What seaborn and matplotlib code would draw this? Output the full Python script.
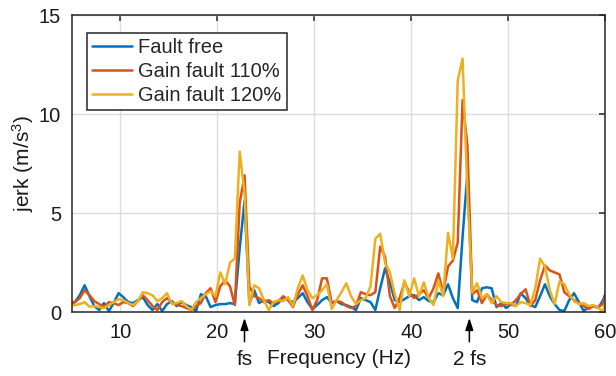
import numpy as np
import pandas as pd
import matplotlib
matplotlib.use("Agg")
import matplotlib.pyplot as plt
import matplotlib.transforms as mtransforms
import seaborn as sns

# Spectrum bins (0.5 Hz spacing)
freq = np.round(np.arange(4.8, 60.31, 0.5), 1)

fault_free = [
    0.45, 0.5, 0.85, 1.35, 0.8, 0.3, 0.1, 0.45, 0.05, 0.45,
    0.95, 0.75, 0.5, 0.45, 0.6, 0.75, 0.35, 0.1, 0.4, 0.05,
    0.4, 0.55, 0.3, 0.5, 0.35, 0.25, 0.05, 0.9, 0.8, 0.25,
    0.35, 0.4, 0.4, 0.45, 0.4, 3.2, 5.6, 0.4, 1.1, 0.45,
    0.6, 0.5, 0.3, 0.45, 0.75, 0.6, 0.5, 0.7, 0.95, 0.5,
    0.15, 0.35, 0.6, 0.75, 0.45, 0.55, 0.4, 0.35, 0.25, 0.1,
    0.7, 0.6, 0.5, 0.1, 1.2, 2.2, 1.5, 0.6, 0.5, 0.65,
    0.8, 0.85, 0.6, 0.75, 0.55, 0.5, 0.95, 0.85, 1.4, 0.7,
    0.2, 3.8, 7.0, 0.6, 0.5, 1.2, 1.25, 1.2, 0.25, 0.45,
    0.2, 0.4, 0.3, 0.95, 0.7, 0.35, 0.25, 0.8, 1.4, 0.8,
    0.4, 0.1, 0.05, 0.6, 0.95, 0.5, 0.05, 0.25, 0.3, 0.2,
    0.6, 1.3,
]

gain_110 = [
    0.4, 0.5, 0.7, 1.1, 0.85, 0.55, 0.4, 0.27, 0.5, 0.45,
    0.35, 0.5, 0.45, 0.3, 0.55, 0.85, 0.6, 0.3, 0.1, 0.5,
    0.7, 0.5, 0.35, 0.3, 0.2, 0.1, 0.3, 0.45, 0.95, 1.2,
    0.5, 1.3, 1.6, 1.3, 0.35, 5.5, 6.9, 1.3, 0.8, 0.7,
    0.5, 0.6, 0.45, 0.55, 0.8, 0.6, 0.25, 0.9, 1.35, 0.8,
    0.1, 0.6, 1.7, 1.7, 0.45, 0.55, 0.5, 0.3, 0.2, 0.3,
    1.0, 0.9, 0.85, 1.0, 3.3, 2.8, 0.8, 0.2, 0.7, 1.5,
    1.0, 0.7, 0.9, 1.1, 0.7, 1.2, 1.95, 1.0, 2.3, 2.6,
    3.5, 10.7, 8.4, 0.9, 1.1, 0.45, 0.9, 0.6, 0.35, 0.3,
    0.4, 0.35, 0.6, 0.9, 1.15, 0.3, 0.6, 1.6, 2.35, 2.1,
    2.0, 1.9, 1.0, 0.8, 0.6, 0.45, 0.3, 0.15, 0.3, 0.25,
    0.4, 1.3,
]

gain_120 = [
    0.3, 0.35, 0.4, 0.5, 0.27, 0.3, 0.25, 0.2, 0.35, 0.5,
    0.65, 0.6, 0.45, 0.35, 0.55, 1.0, 0.95, 0.85, 0.55, 0.7,
    0.95, 0.4, 0.45, 0.55, 0.3, 0.1, 0.5, 0.7, 0.9, 1.05,
    0.8, 2.0, 1.4, 2.5, 2.7, 8.1, 6.0, 0.35, 1.35, 1.2,
    0.6, 0.1, 0.5, 0.6, 0.55, 0.75, 0.3, 1.2, 1.85, 1.1,
    0.7, 0.85, 1.1, 1.4, 0.15, 0.6, 1.0, 1.45, 0.8, 0.4,
    0.6, 0.7, 1.3, 3.7, 3.95, 2.5, 2.0, 0.9, 0.1, 1.6,
    0.8, 1.7, 0.8, 1.5, 0.7, 0.35, 1.6, 0.8, 4.0, 2.7,
    11.7, 12.8, 6.0, 1.0, 1.45, 0.7, 0.9, 0.45, 0.8, 0.5,
    0.45, 0.45, 0.3, 0.5, 0.45, 0.35, 1.2, 2.7, 2.3, 1.1,
    0.4, 1.55, 1.4, 0.9, 0.55, 0.4, 0.45, 0.3, 0.35, 0.2,
    0.05, 1.0,
]

series_names = ["Fault free", "Gain fault 110%", "Gain fault 120%"]
series_colors = ["#0072BD", "#D95319", "#EDB120"]

x_ticks = [10, 20, 30, 40, 50, 60]
y_ticks = [0, 5, 10, 15]

# Supply frequency marker and its harmonic
marker_pos = [22.8, 46.0]
marker_text = ["fs", "2 fs"]

df = pd.concat(
    [
        pd.DataFrame({"freq": freq, "jerk": vals, "series": name})
        for name, vals in zip(series_names, [fault_free, gain_110, gain_120])
    ],
    ignore_index=True,
)

sns.set_theme(style="white")
plt.rcParams["font.family"] = ["Liberation Sans", "DejaVu Sans"]
plt.rcParams["mathtext.fontset"] = "custom"
plt.rcParams["mathtext.rm"] = "Liberation Sans"
plt.rcParams["mathtext.it"] = "Liberation Sans"

fig = plt.figure(figsize=(6.16, 3.76), dpi=100)
ax = fig.add_axes([0.1169, 0.1702, 0.8653, 0.7898])

sns.lineplot(
    data=df, x="freq", y="jerk", hue="series", hue_order=series_names,
    palette=series_colors, linewidth=1.8, ax=ax, legend=True,
)

ax.set_xlim(5, 60)
ax.set_ylim(0, 15)
ax.set_xticks(x_ticks)
ax.set_yticks(y_ticks)
ax.grid(True, color="#dcdcdc", linewidth=1.0)
ax.set_axisbelow(True)
for s in ax.spines.values():
    s.set_color("#262626")
    s.set_linewidth(1.1)
ax.tick_params(direction="in", length=4, width=1.1, color="#262626",
               top=True, right=True, labelsize=14.5, labelcolor="#1a1a1a", pad=8)

ax.set_xlabel("Frequency (Hz)", fontsize=15, color="#1a1a1a", labelpad=5)
ax.set_ylabel("jerk (m/s$^3$)", fontsize=15, color="#1a1a1a", labelpad=2)

leg = ax.legend(
    loc="upper left", bbox_to_anchor=(0.028, 0.94), fontsize=14.5,
    frameon=True, fancybox=False, edgecolor="#262626", framealpha=1,
    handlelength=2.0, handletextpad=0.3, labelspacing=0.25,
    borderpad=0.25, borderaxespad=0,
)
leg.get_frame().set_linewidth(1.1)

trans = mtransforms.blended_transform_factory(ax.transData, ax.transAxes)
for pos, txt in zip(marker_pos, marker_text):
    ax.annotate(
        "", xy=(pos, -0.02), xytext=(pos, -0.10), xycoords=trans,
        textcoords=trans, annotation_clip=False,
        arrowprops=dict(arrowstyle="-|>,head_length=0.6,head_width=0.2",
                        color="black", lw=1.1, shrinkA=0, shrinkB=0),
    )
    ax.text(pos, -0.16, txt, transform=trans, ha="center", va="center",
            fontsize=15, color="#1a1a1a")

fig.savefig("out.png", dpi=100)
